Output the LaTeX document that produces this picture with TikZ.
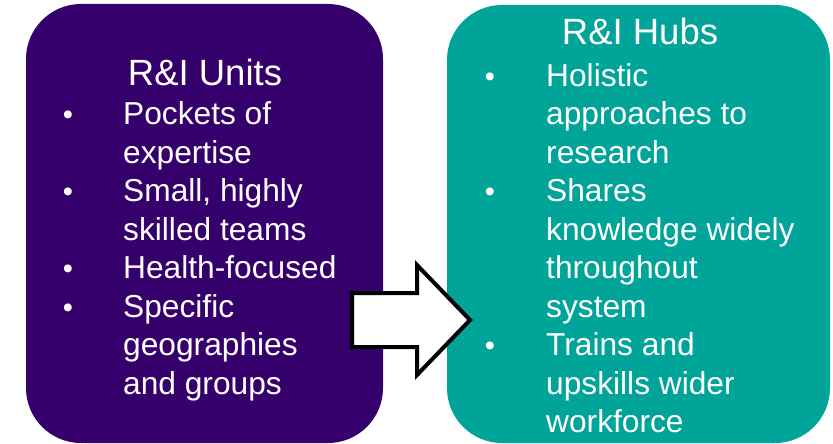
\documentclass[tikz,border=0pt]{standalone}
\usepackage{fontspec}
\setmainfont{Liberation Sans}
\definecolor{unitpurple}{HTML}{35006B}
\definecolor{hubteal}{HTML}{00A499}
\begin{document}
\begin{tikzpicture}[x=1pt,y=-1pt,
  panel/.style={rounded corners=55pt},
  txt/.style={inner sep=0pt,anchor=base west,text=white,font=\fontsize{31.7}{38}\selectfont},
  ttl/.style={inner sep=0pt,anchor=base,text=white,font=\fontsize{36.5}{42}\selectfont},
  bul/.style={inner sep=0pt,anchor=base,text=white,font=\fontsize{29}{35}\selectfont}]
\useasboundingbox (0,0) rectangle (833,444);
\fill[unitpurple,panel] (26,4) rectangle (383,443);
\fill[hubteal,panel] (447,5) rectangle (830,443);
% arrow
\draw[line width=4pt,fill=white,line join=miter]
  (352,293) -- (417,293) -- (417,265) -- (470,320) -- (417,375) -- (417,347) -- (352,347) -- cycle;
% titles
\node[ttl] (lt) at (205,85) {R\&I Units};
\node[ttl] (rt) at (640,45) {R\&I Hubs};
% left
\foreach \y/\t [count=\i] in {124.5/Pockets of,163/expertise,201.5/{Small, highly},240/skilled teams,278.5/Health-focused,317/Specific,355.5/geographies,394/and groups}
  \node[txt] (l\i) at (123,\y) {\t};
\foreach \y [count=\i] in {124.5,201.5,278.5,317}
  \node[bul] (lb\i) at (68,\y) {•};
% right
\foreach \y/\t [count=\i] in {86/Holistic,124.5/approaches to,163/research,201.5/Shares,240/knowledge widely,278.5/throughout,317/system,355.5/Trains and,394/upskills wider,432.5/workforce}
  \node[txt] (r\i) at (546,\y) {\t};
\foreach \y [count=\i] in {86,201.5,355.5}
  \node[bul] (rb\i) at (490,\y) {•};
\end{tikzpicture}
\end{document}
